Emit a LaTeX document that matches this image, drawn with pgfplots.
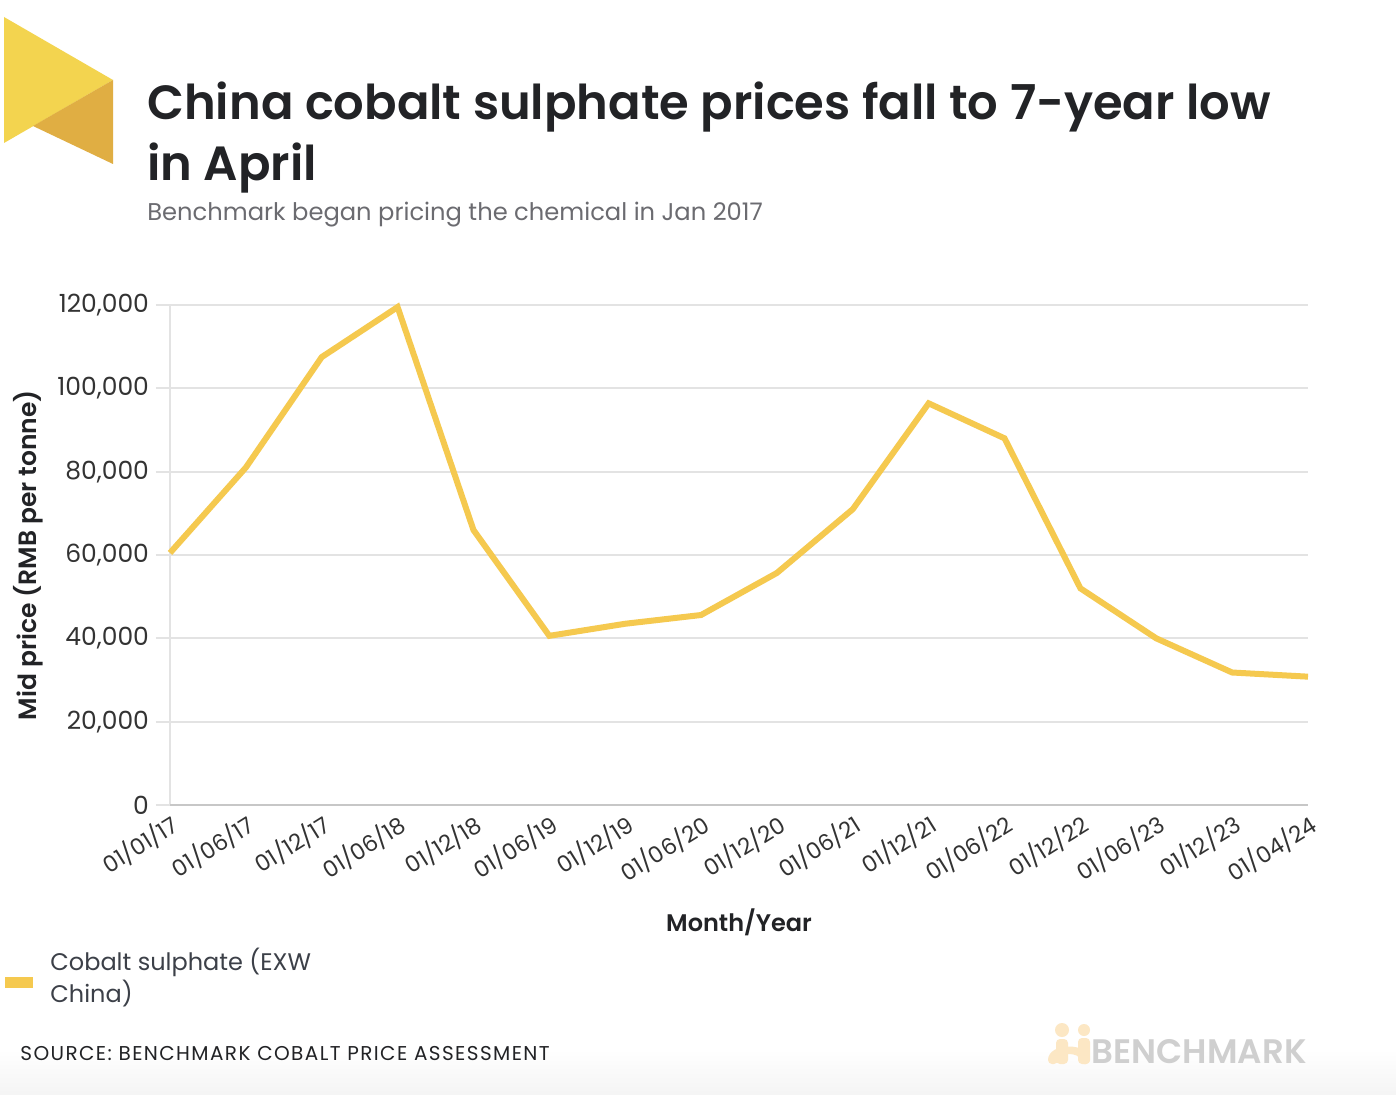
\documentclass[border=0pt]{standalone}
\usepackage{fontspec}
\setmainfont{Poppins}[BoldFont={Poppins SemiBold}]
\usepackage{pgfplots}
\pgfplotsset{compat=1.18}
\definecolor{cobalt}{HTML}{F5C94F}
\definecolor{logoA}{HTML}{F3D44F}
\definecolor{logoB}{HTML}{E0AE43}
\definecolor{titlec}{HTML}{222326}
\definecolor{subc}{HTML}{6B6B70}
\definecolor{tickc}{HTML}{333333}
\definecolor{gridc}{HTML}{E3E3E3}
\definecolor{legc}{HTML}{3C4048}
\definecolor{bmgray}{HTML}{CFCFCF}
\definecolor{bmpeach}{HTML}{FCE7C4}
\pgfplotstableread{
x y
0 60500
1 81000
2 107500
3 119500
4 66000
5 40600
6 43500
7 45600
8 55700
9 71000
10 96400
11 88000
12 52000
13 40000
14 31800
15 30800
}\cobaltdata
\begin{document}
\begin{tikzpicture}[x=0.5pt,y=0.5pt]
\fill[white] (0,0) rectangle (1396,1094);
\shade[top color=white, bottom color=black!4] (0,0) rectangle (1396,45);
% logo
\fill[logoA] (4,1077) -- (113,1014) -- (4,951) -- cycle;
\fill[logoB] (113,1014) -- (113,930) -- (33,968) -- cycle;
% titles
\node[anchor=base west, inner sep=0pt, font=\fontsize{24}{29}\selectfont\bfseries, text=titlec] at (147,974) {China cobalt sulphate prices fall to 7-year low};
\node[anchor=base west, inner sep=0pt, font=\fontsize{24}{29}\selectfont\bfseries, text=titlec] at (147,913) {in April};
\node[anchor=base west, inner sep=0pt, font=\fontsize{12.1}{14}\selectfont, text=subc] at (147,873) {Benchmark began pricing the chemical in Jan 2017};
\begin{axis}[
  at={(85pt,144.5pt)}, anchor=south west,
  scale only axis, width=569pt, height=250pt,
  xmin=0, xmax=15, ymin=0, ymax=120000,
  axis line style={draw=none},
  xtick={0,...,15},
  xticklabels={01/01/17,01/06/17,01/12/17,01/06/18,01/12/18,01/06/19,01/12/19,01/06/20,01/12/20,01/06/21,01/12/21,01/06/22,01/12/22,01/06/23,01/12/23,01/04/24},
  xtick style={draw=none},
  xticklabel style={rotate=32, anchor=east, font=\fontsize{11.3}{12}\selectfont, text=tickc, xshift=5pt, yshift=-3pt},
  ytick={0,20000,...,120000},
  ytick pos=left, xtick pos=bottom,
  scaled y ticks=false,
  yticklabel style={/pgf/number format/.cd, fixed, 1000 sep={,}, /tikz/.cd, font=\fontsize{12.5}{14}\selectfont, text=tickc},
  /pgf/number format/assume math mode=true,
  ymajorgrids, grid style={gridc, line width=1pt},
  tick align=outside, major tick length=7pt,
  ytick style={gridc, line width=1pt},
  clip=false,
]
\draw[gridc, line width=1pt] (axis cs:0,0) -- (axis cs:0,120000);
\draw[black!22, line width=1pt] (axis cs:0,0) -- (axis cs:15,0);
\addplot[cobalt, line width=3pt, line join=miter] table[x=x,y=y] {\cobaltdata};
\end{axis}
% axis titles
\node[font=\fontsize{12}{14}\selectfont\bfseries, text=titlec] at (739,172) {Month/Year};
\node[rotate=90, font=\fontsize{12.5}{14}\selectfont\bfseries, text=titlec] at (28,539) {Mid price (RMB per tonne)};
% legend
\fill[cobalt] (5,117) rectangle (33,106);
\node[anchor=north west, align=left, inner sep=0pt, font=\fontsize{12}{16}\selectfont, text=legc] at (50,146) {Cobalt sulphate (EXW\\China)};
% source
\node[anchor=west, inner sep=0pt, font=\fontsize{10}{11}\selectfont\addfontfeatures{LetterSpace=7}, text=titlec] at (20,40) {SOURCE: BENCHMARK COBALT PRICE ASSESSMENT};
% benchmark logo
\fill[bmpeach] (1062,64) circle (7);
\fill[bmpeach, rounded corners=2] (1056,30) rectangle (1068,55);
\fill[bmpeach, rounded corners=2] (1048,30) .. controls (1048,52) and (1090,52) .. (1090,30) -- (1080,30) .. controls (1080,42) and (1058,42) .. (1058,30) -- cycle;
\fill[bmpeach, rounded corners=2] (1078,30) rectangle (1090,56);
\fill[bmpeach] (1084,64) circle (6);
\node[anchor=east, inner sep=0pt, font=\fontsize{17}{19}\selectfont\bfseries, text=bmgray] at (1307,42) {BENCHMARK};
\end{tikzpicture}
\end{document}
